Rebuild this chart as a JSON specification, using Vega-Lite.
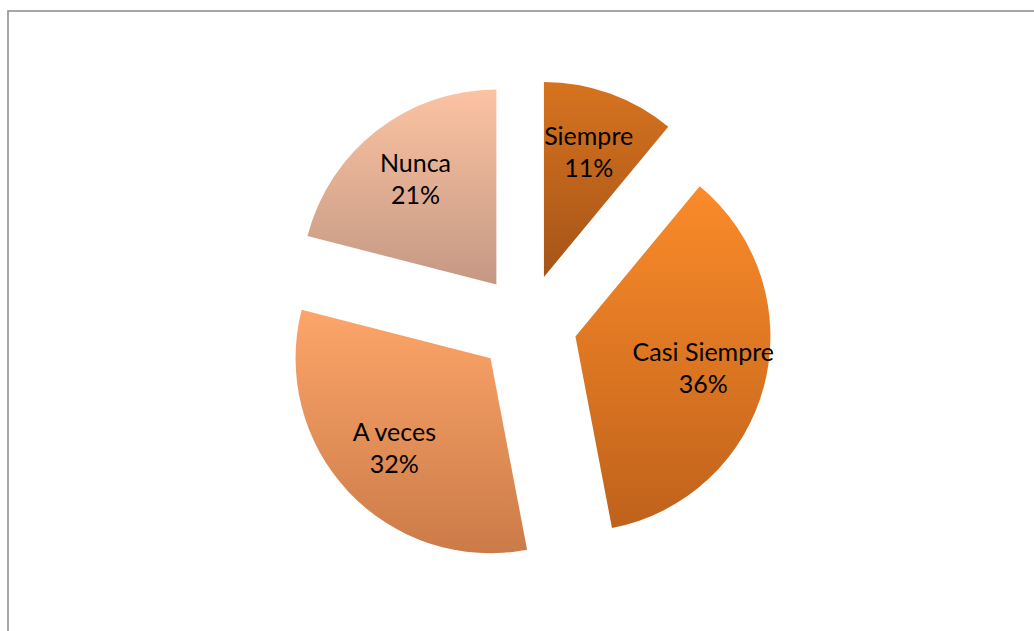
{
  "$schema": "https://vega.github.io/schema/vega-lite/v6.json",
  "autosize": "none",
  "width": 1038,
  "height": 626,
  "padding": {"left": 8, "top": 11, "right": -12, "bottom": -6},
  "background": "white",
  "view": {"stroke": "#8a8a8a", "strokeWidth": 1.5, "fill": "white"},
  "data": {
    "values": [
      {"i": 1, "cat": "Siempre", "pct": 0.11},
      {"i": 2, "cat": "Casi Siempre", "pct": 0.36},
      {"i": 3, "cat": "A veces", "pct": 0.32},
      {"i": 4, "cat": "Nunca", "pct": 0.21}
    ]
  },
  "transform": [
    {"stack": "pct", "groupby": [], "sort": [{"field": "i", "order": "ascending"}], "as": ["s0", "s1"]}
  ],
  "resolve": {"scale": {"theta": "shared"}},
  "layer": [
    {
      "transform": [{"filter": "datum.cat === 'Siempre'"}],
      "mark": {
        "type": "arc", "outerRadius": 195,
        "xOffset": {"expr": "50*sin(scale('theta',(datum.s0+datum.s1)/2))"},
        "yOffset": {"expr": "-50*cos(scale('theta',(datum.s0+datum.s1)/2))"},
        "fill": {"gradient": "linear", "x1": 0, "y1": 0, "x2": 0, "y2": 1,
          "stops": [{"offset": 0, "color": "#d6731f"}, {"offset": 1, "color": "#a65418"}]}
      },
      "encoding": {
        "theta": {"field": "s0", "type": "quantitative", "scale": {"domain": [0, 1]}},
        "theta2": {"field": "s1"}
      }
    },
    {
      "transform": [{"filter": "datum.cat === 'Casi Siempre'"}],
      "mark": {
        "type": "arc", "outerRadius": 195,
        "xOffset": {"expr": "50*sin(scale('theta',(datum.s0+datum.s1)/2))"},
        "yOffset": {"expr": "-50*cos(scale('theta',(datum.s0+datum.s1)/2))"},
        "fill": {"gradient": "linear", "x1": 0, "y1": 0, "x2": 0, "y2": 1,
          "stops": [{"offset": 0, "color": "#fb8b2a"}, {"offset": 1, "color": "#bf621b"}]}
      },
      "encoding": {
        "theta": {"field": "s0", "type": "quantitative", "scale": {"domain": [0, 1]}},
        "theta2": {"field": "s1"}
      }
    },
    {
      "transform": [{"filter": "datum.cat === 'A veces'"}],
      "mark": {
        "type": "arc", "outerRadius": 195,
        "xOffset": {"expr": "50*sin(scale('theta',(datum.s0+datum.s1)/2))"},
        "yOffset": {"expr": "-50*cos(scale('theta',(datum.s0+datum.s1)/2))"},
        "fill": {"gradient": "linear", "x1": 0, "y1": 0, "x2": 0, "y2": 1,
          "stops": [{"offset": 0, "color": "#fda56a"}, {"offset": 1, "color": "#cb7b48"}]}
      },
      "encoding": {
        "theta": {"field": "s0", "type": "quantitative", "scale": {"domain": [0, 1]}},
        "theta2": {"field": "s1"}
      }
    },
    {
      "transform": [{"filter": "datum.cat === 'Nunca'"}],
      "mark": {
        "type": "arc", "outerRadius": 195,
        "xOffset": {"expr": "50*sin(scale('theta',(datum.s0+datum.s1)/2))"},
        "yOffset": {"expr": "-50*cos(scale('theta',(datum.s0+datum.s1)/2))"},
        "fill": {"gradient": "linear", "x1": 0, "y1": 0, "x2": 0, "y2": 1,
          "stops": [{"offset": 0, "color": "#fbc3a2"}, {"offset": 1, "color": "#c59884"}]}
      },
      "encoding": {
        "theta": {"field": "s0", "type": "quantitative", "scale": {"domain": [0, 1]}},
        "theta2": {"field": "s1"}
      }
    },
    {
      "mark": {"type": "text", "radius": 182, "dy": -16, "font": "Lato", "fontSize": 25, "color": "#000000"},
      "encoding": {
        "theta": {"field": "pct", "type": "quantitative", "stack": true, "scale": {"domain": [0, 1]}},
        "detail": {"field": "i", "type": "ordinal"},
        "order": {"field": "i", "type": "quantitative"},
        "text": {"field": "cat", "type": "nominal"}
      }
    },
    {
      "mark": {"type": "text", "radius": 182, "dy": 16, "font": "Lato", "fontSize": 25, "color": "#000000"},
      "encoding": {
        "theta": {"field": "pct", "type": "quantitative", "stack": true, "scale": {"domain": [0, 1]}},
        "detail": {"field": "i", "type": "ordinal"},
        "order": {"field": "i", "type": "quantitative"},
        "text": {"field": "pct", "type": "quantitative", "format": ".0%"}
      }
    }
  ]
}
